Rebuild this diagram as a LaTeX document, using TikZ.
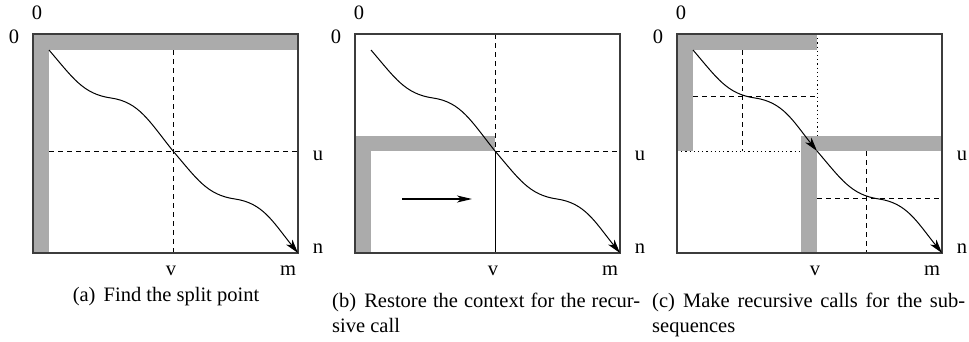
\documentclass[tikz,border=0pt]{standalone}
\usepackage{fontspec}
\setmainfont{Liberation Serif}
\usetikzlibrary{arrows.meta, positioning}
\definecolor{BandGrey}{RGB}{171, 171, 171}
\definecolor{FrameGrey}{RGB}{60, 60, 60}

\begin{document}
\begin{tikzpicture}[x=1pt, y=-1pt, font=\fontsize{20.5}{25}\selectfont,
    frame/.style={draw=FrameGrey, line width=1.1pt},
    band/.style={fill=BandGrey},
    cut/.style={line width=0.9pt, dash pattern=on 5pt off 4pt},
    hint/.style={line width=1pt, dash pattern=on 1.2pt off 3pt},
    trace/.style={line width=1pt, -{Stealth[length=14pt, width=8pt, inset=4pt]}},
    push/.style={line width=1.4pt, -{Stealth[length=15pt, width=7pt, inset=4pt]}},
    lbl/.style={anchor=base, inner sep=0pt}]

    \useasboundingbox (0,0) rectangle (969,341);

    % Constants (one unit = one pixel of the figure)
    \def\BoxW{265}  % width of a panel
    \def\BoxH{219}  % height of a panel
    \def\Band{16}   % thickness of the grey context band

    % Path of the trace, relative to the top left corner of a panel
    % upper half ends at the split point (140,117)
    \newcommand{\traceUpper}{
        (16,16) .. controls (40,44) and (50,60) .. (78,64)
                .. controls (106,68) and (116,87) .. (140,117)
    }
    \newcommand{\traceLower}{
        .. controls (164,145) and (174,161) .. (202,165)
        .. controls (230,169) and (240,188) .. (\BoxW,\BoxH)
    }

    % Labels of the axes, the same for all three panels
    \foreach \px/\tag in {33/a, 355/b, 677/c} {
        \begin{scope}[shift={(\px,34)}]
            \node[lbl] (top-\tag) at (4,-15) {0};
            \node[lbl] (left-\tag) at (-19,9) {0};
            \node[lbl] (u-\tag) at (285,126) {u};
            \node[lbl] (n-\tag) at (285,\BoxH) {n};
            \node[lbl] (v-\tag) at (138,241) {v};
            \node[lbl] (m-\tag) at (255,241) {m};
        \end{scope}
    }

    % --- (a) Find the split point ---
    \begin{scope}[shift={(33,34)}]
        \coordinate (sa) at (140,117);
        \draw[cut] (140,\Band) -- (140,\BoxH);
        \draw[cut] (\Band,117) -- (\BoxW,117);
        \fill[band] (0,0) rectangle (\BoxW,\Band);
        \fill[band] (0,0) rectangle (\Band,\BoxH);
        \draw[frame] (0,0) rectangle (\BoxW,\BoxH);
        \draw[trace] \traceUpper \traceLower;
    \end{scope}

    % --- (b) Restore the context ---
    \begin{scope}[shift={(355,34)}]
        \coordinate (sb) at (140,117);
        \coordinate (push-from) at (47,165);
        \coordinate (push-to) at (117,165);
        \draw[cut] (140,0) -- (sb);
        \draw[cut] (sb) -- (\BoxW,117);
        \fill[band] (0,102) rectangle (sb);
        \fill[band] (0,102) rectangle (\Band,\BoxH);
        \draw[line width=1pt] (sb) -- (140,\BoxH);
        \draw[frame] (0,0) rectangle (\BoxW,\BoxH);
        \draw[trace] \traceUpper \traceLower;
        \draw[push] (push-from) -- (push-to);
    \end{scope}

    % --- (c) Recursive calls ---
    \begin{scope}[shift={(677,34)}]
        \coordinate (sc) at (140,117);
        \draw[hint] (140,0) -- (sc);
        \draw[hint] (0,117) -- (sc);
        % sub-splits
        \draw[cut] (65,\Band) -- (65,117);
        \draw[cut] (\Band,62) -- (140,62);
        \draw[cut] (189,117) -- (189,\BoxH);
        \draw[cut] (140,164) -- (\BoxW,164);
        \fill[band] (0,0) rectangle (140,\Band);
        \fill[band] (0,0) rectangle (\Band,117);
        \fill[band] (124,102) rectangle (\BoxW,117);
        \fill[band] (124,102) rectangle (140,\BoxH);
        \draw[frame] (0,0) rectangle (\BoxW,\BoxH);
        \draw[trace] \traceUpper;
        \draw[trace] (sc) \traceLower;
    \end{scope}

    % Captions
    \node[lbl] (cap-a) at (166,301) {(a)\hspace{0.4em}Find the split point};
    \node[lbl, anchor=base west] (cap-b) at (332,307)
        {\makebox[308pt][s]{(b)\hspace{0.4em}Restore the context for the recur-}};
    \node[lbl, anchor=base west] (cap-b2) at (332,332) {sive call};
    \node[lbl, anchor=base west] (cap-c) at (652,307)
        {\makebox[313pt][s]{(c)\hspace{0.4em}Make recursive calls for the sub-}};
    \node[lbl, anchor=base west] (cap-c2) at (652,332) {sequences};

\end{tikzpicture}
\end{document}
